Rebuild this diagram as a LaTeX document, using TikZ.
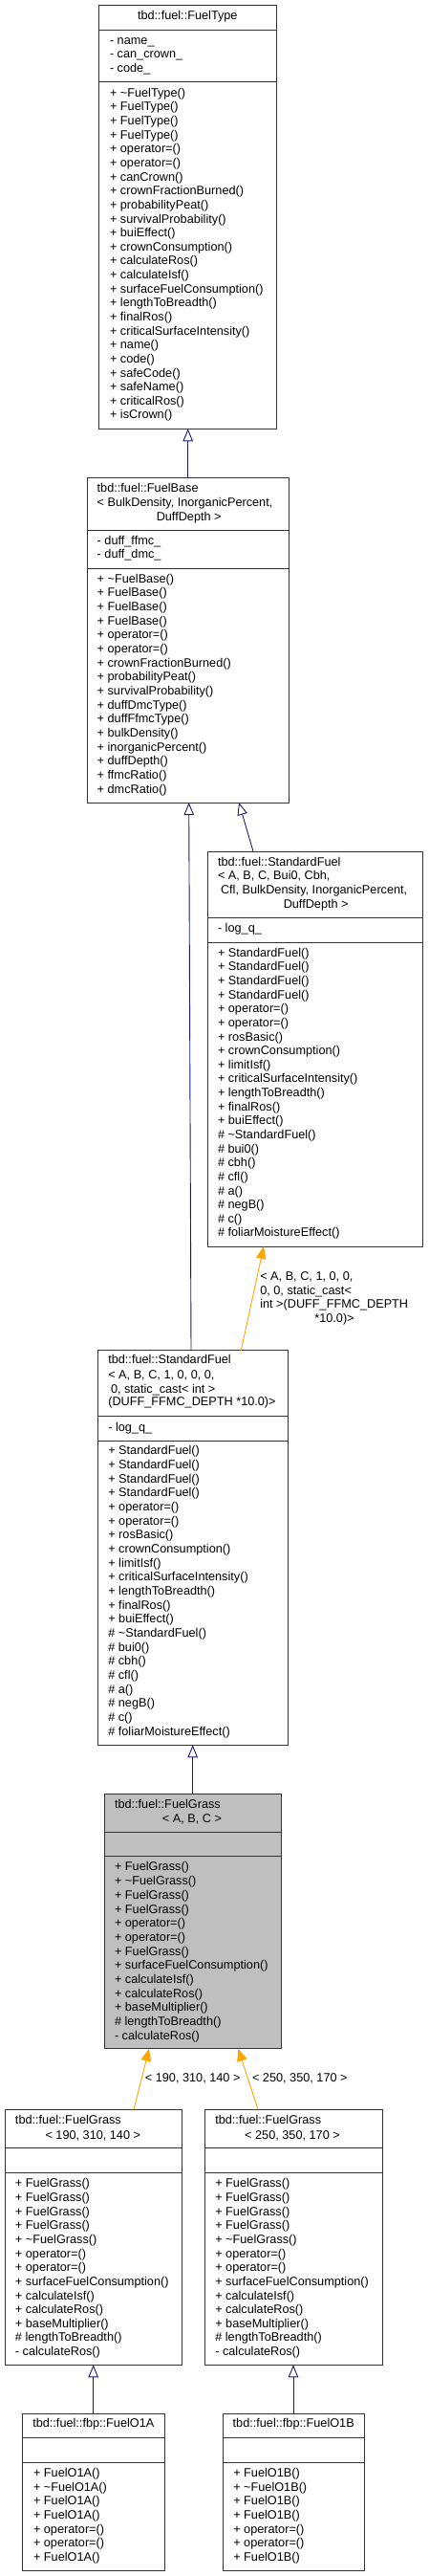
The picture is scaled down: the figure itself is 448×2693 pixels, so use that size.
\documentclass[tikz,border=0pt]{standalone}
\usepackage{fontspec}
\setmainfont{Liberation Sans}
\usetikzlibrary{arrows.meta,fit}
\definecolor{navy}{HTML}{191970}
\definecolor{edgeorange}{HTML}{FFA500}
\definecolor{grayfill}{HTML}{BFBFBF}
\tikzset{
 clsbox/.style={draw=black!80, line width=1pt, inner sep=0pt, outer sep=0pt},
 sepline/.style={draw=black!80, line width=1pt},
 txt/.style={anchor=base west, inner sep=0pt, outer sep=0pt, font=\fontsize{12.7}{14.67}\selectfont},
 ctxt/.style={txt, anchor=base},
 inh/.style={draw=navy, line width=0.9pt, -{Triangle[open, length=13pt, width=10.5pt]}},
 tmpl/.style={draw=edgeorange, line width=0.9pt, -{Triangle[length=13pt, width=10.5pt, fill=edgeorange]}},
}
\newcommand\mlines[5]{\foreach \mm [count=\i from 0] in {#5}{\node[txt] (#1-\i) at (#2,{#3+\i*#4+3.6}) {\mm};}}
\newcommand\twoseps[3]{\draw[sepline] (#1.west |- 0,#2) -- (#1.east |- 0,#2); \draw[sepline] (#1.west |- 0,#3) -- (#1.east |- 0,#3);}
\begin{document}
\begin{tikzpicture}[x=1pt,y=-1pt]
\useasboundingbox (0,0) rectangle (448,2693);

% ---------------- FuelType
\node[clsbox, fit={(103.7,5.7) (289,448.3)}] (ft) {};
\twoseps{ft}{31.7}{85.7}
\node[ctxt] (ft-t) at (196.3,20.9) {tbd::fuel::FuelType};
\mlines{fta}{115}{42.7}{14.67}{- name\_, - can\_crown\_, - code\_}
\mlines{ftm}{115}{97.7}{14.635}{+ \textasciitilde{}FuelType(), + FuelType(), + FuelType(), + FuelType(), + operator=(), + operator=(), + canCrown(), + crownFractionBurned(), + probabilityPeat(), + survivalProbability(), + buiEffect(), + crownConsumption(), + calculateRos(), + calculateIsf(), + surfaceFuelConsumption(), + lengthToBreadth(), + finalRos(), + criticalSurfaceIntensity(), + name(), + code(), + safeCode(), + safeName(), + criticalRos(), + isCrown()}

% ---------------- FuelBase
\node[clsbox, fit={(91,499) (302,839)}] (fb) {};
\twoseps{fb}{554}{594}
\node[txt] (fb-t1) at (101.7,514.3) {tbd::fuel::FuelBase};
\node[txt] (fb-t2) at (101.7,529.3) {< BulkDensity, InorganicPercent,};
\node[ctxt] (fb-t3) at (197.7,544.3) {DuffDepth >};
\mlines{fba}{101.7}{565.7}{14.6}{- duff\_ffmc\_, - duff\_dmc\_}
\mlines{fbm}{101.7}{605.7}{14.667}{+ \textasciitilde{}FuelBase(), + FuelBase(), + FuelBase(), + FuelBase(), + operator=(), + operator=(), + crownFractionBurned(), + probabilityPeat(), + survivalProbability(), + duffDmcType(), + duffFfmcType(), + bulkDensity(), + inorganicPercent(), + duffDepth(), + ffmcRatio(), + dmcRatio()}

% ---------------- StandardFuel (generic)
\node[clsbox, fit={(217,890) (442.7,1303)}] (sfg) {};
\twoseps{sfg}{959.3}{985}
\node[txt] (sfg-t1) at (228,905.3) {tbd::fuel::StandardFuel};
\node[txt] (sfg-t2) at (228,919.9) {< A, B, C, Bui0, Cbh,};
\node[txt] (sfg-t3) at (231,934.6) {Cfl, BulkDensity, InorganicPercent,};
\node[ctxt] (sfg-t4) at (330.7,949.3) {DuffDepth >};
\mlines{sfga}{228}{971}{14.6}{- log\_q\_}
\mlines{sfgm}{228}{996.7}{14.63}{+ StandardFuel(), + StandardFuel(), + StandardFuel(), + StandardFuel(), + operator=(), + operator=(), + rosBasic(), + crownConsumption(), + limitIsf(), + criticalSurfaceIntensity(), + lengthToBreadth(), + finalRos(), + buiEffect(), \# \textasciitilde{}StandardFuel(), \# bui0(), \# cbh(), \# cfl(), \# a(), \# negB(), \# c(), \# foliarMoistureEffect()}

% ---------------- StandardFuel (instance)
\node[clsbox, fit={(102.7,1411.7) (301,1824.3)}] (sfi) {};
\twoseps{sfi}{1480.7}{1506}
\node[txt] (sfi-t1) at (113.3,1425.9) {tbd::fuel::StandardFuel};
\node[txt] (sfi-t2) at (113.3,1441.3) {< A, B, C, 1, 0, 0, 0,};
\node[txt] (sfi-t3) at (116,1456.3) {0, static\_cast< int >};
\node[txt] (sfi-t4) at (113.3,1469.9) {(DUFF\_FFMC\_DEPTH *10.0)>};
\mlines{sfia}{113.3}{1492.7}{14.6}{- log\_q\_}
\mlines{sfim}{113.3}{1517.3}{14.67}{+ StandardFuel(), + StandardFuel(), + StandardFuel(), + StandardFuel(), + operator=(), + operator=(), + rosBasic(), + crownConsumption(), + limitIsf(), + criticalSurfaceIntensity(), + lengthToBreadth(), + finalRos(), + buiEffect(), \# \textasciitilde{}StandardFuel(), \# bui0(), \# cbh(), \# cfl(), \# a(), \# negB(), \# c(), \# foliarMoistureEffect()}

% ---------------- FuelGrass<A,B,C>
\node[clsbox, fill=grayfill, fit={(109.3,1875) (294.7,2141.7)}] (fg) {};
\twoseps{fg}{1915}{1940.7}
\node[txt] (fg-t1) at (120,1890.3) {tbd::fuel::FuelGrass};
\node[ctxt] (fg-t2) at (201,1905.3) {< A, B, C >};
\mlines{fgm}{120}{1952.3}{14.7}{+ FuelGrass(), + \textasciitilde{}FuelGrass(), + FuelGrass(), + FuelGrass(), + operator=(), + operator=(), + FuelGrass(), + surfaceFuelConsumption(), + calculateIsf(), + calculateRos(), + baseMultiplier(), \# lengthToBreadth(), - calculateRos()}

% ---------------- FuelGrass<190,310,140>
\node[clsbox, fit={(5,2205.3) (190.7,2472.3)}] (fga) {};
\twoseps{fga}{2245.7}{2271}
\node[txt] (fga-t1) at (16,2220.9) {tbd::fuel::FuelGrass};
\node[ctxt] (fga-t2) at (97.3,2236.6) {< 190, 310, 140 >};
\mlines{fgam}{16}{2283.3}{14.64}{+ FuelGrass(), + FuelGrass(), + FuelGrass(), + FuelGrass(), + \textasciitilde{}FuelGrass(), + operator=(), + operator=(), + surfaceFuelConsumption(), + calculateIsf(), + calculateRos(), + baseMultiplier(), \# lengthToBreadth(), - calculateRos()}

% ---------------- FuelGrass<250,350,170>
\node[clsbox, fit={(214.3,2205.3) (400,2472.3)}] (fgb) {};
\twoseps{fgb}{2245.7}{2271}
\node[txt] (fgb-t1) at (225.3,2220.9) {tbd::fuel::FuelGrass};
\node[ctxt] (fgb-t2) at (306,2236.6) {< 250, 350, 170 >};
\mlines{fgbm}{225.3}{2283.3}{14.64}{+ FuelGrass(), + FuelGrass(), + FuelGrass(), + FuelGrass(), + \textasciitilde{}FuelGrass(), + operator=(), + operator=(), + surfaceFuelConsumption(), + calculateIsf(), + calculateRos(), + baseMultiplier(), \# lengthToBreadth(), - calculateRos()}

% ---------------- FuelO1A
\node[clsbox, fit={(23.7,2523.3) (172,2687)}] (oa) {};
\twoseps{oa}{2548.3}{2574}
\node[ctxt] (oa-t) at (97.8,2537.9) {tbd::fuel::fbp::FuelO1A};
\mlines{oam}{35}{2585.7}{14.67}{+ FuelO1A(), + \textasciitilde{}FuelO1A(), + FuelO1A(), + FuelO1A(), + operator=(), + operator=(), + FuelO1A()}

% ---------------- FuelO1B
\node[clsbox, fit={(233,2523.3) (381.3,2687)}] (ob) {};
\twoseps{ob}{2548.3}{2574}
\node[ctxt] (ob-t) at (307.2,2537.9) {tbd::fuel::fbp::FuelO1B};
\mlines{obm}{244.3}{2585.7}{14.67}{+ FuelO1B(), + \textasciitilde{}FuelO1B(), + FuelO1B(), + FuelO1B(), + operator=(), + operator=(), + FuelO1B()}

% ---------------- connectors
\draw[inh] (fb.north -| 196.7,0) -- (ft.south -| 196.7,0);
\draw[inh] (sfi.north -| 200,0) -- (fb.south -| 197.7,0);
\draw[inh] (sfg.north -| 265,0) -- (fb.south -| 250,0);
\draw[tmpl] (sfi.north -| 252.3,0) -- (sfg.south -| 276,0);
\draw[inh] (fg.north -| 201.7,0) -- (sfi.south -| 201.7,0);
\draw[tmpl] (fga.north -| 140,0) -- (fg.south -| 156,0);
\draw[tmpl] (fgb.north -| 270,0) -- (fg.south -| 249.3,0);
\draw[inh] (oa.north -| 97.7,0) -- (fga.south -| 97.7,0);
\draw[inh] (ob.north -| 307,0) -- (fgb.south -| 307,0);

% ---------------- edge labels
\node[txt] (lab1) at (272.3,1338.6) {< A, B, C, 1, 0, 0,};
\node[txt] (lab2) at (272.3,1353.3) {0, 0, static\_cast<};
\node[txt] (lab3) at (272.3,1367.3) {int >(DUFF\_FFMC\_DEPTH};
\node[ctxt] (lab4) at (350,1382.3) {*10.0)>};
\node[ctxt] (lab5) at (201.7,2176.9) {< 190, 310, 140 >};
\node[ctxt] (lab6) at (313.8,2176.9) {< 250, 350, 170 >};
\end{tikzpicture}
\end{document}
